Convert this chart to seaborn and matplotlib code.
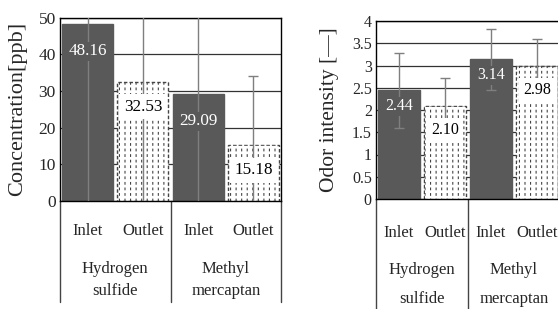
import pandas as pd
import numpy as np
import matplotlib
matplotlib.use("Agg")
import matplotlib.pyplot as plt
import matplotlib.transforms as mtransforms
import seaborn as sns

# data
positions = ["Inlet", "Outlet", "Inlet", "Outlet"]
gases = ["Hydrogen\nsulfide", "Methyl\nmercaptan"]
conc = [48.16, 32.53, 29.09, 15.18]
conc_err = [52.0, 35.4, 31.2, 18.9]
odor = [2.44, 2.10, 3.14, 2.98]
odor_err = [0.84, 0.62, 0.68, 0.62]

keys = [g.replace("\n", " ") + " " + p for g, p in zip(np.repeat(gases, 2), positions)]
df = pd.DataFrame({"key": keys, "pos": positions, "conc": conc, "odor": odor})

sns.set_style("white")
plt.rcParams["font.family"] = ["Liberation Serif", "DejaVu Serif"]

DARK = "#595959"
fig = plt.figure(figsize=(5.58, 3.09), dpi=100)
ax1 = fig.add_axes([60 / 558, 108 / 309, 221 / 558, 183.5 / 309])
ax2 = fig.add_axes([376 / 558, 110 / 309, 184 / 558, 178 / 309])


def panel(ax, col, err, ymax, step, ylabel, tick_fs, lab_fs, offs, low, gas_y, ylab_x, ylab_fs):
    plt.rcParams["hatch.linewidth"] = 0.8
    sns.barplot(data=df, x="key", y=col, order=keys, width=0.92, ax=ax,
                color=DARK, saturation=1, zorder=2)
    for i, bar in enumerate(ax.patches):
        if positions[i] == "Outlet":
            bar.set_facecolor("white")
            bar.set_edgecolor("#444444")
            bar.set_linestyle((0, (2.5, 1.5)))
            bar.set_linewidth(1.0)
            bar.set_hatch("|||")
        else:
            bar.set_edgecolor(DARK)
    # white horizontal hatch breaks the vertical hatch lines into short dashes
    outlet = df[df["pos"] == "Outlet"]
    plt.rcParams["hatch.linewidth"] = 2.0
    ax.bar(outlet.index, outlet[col], width=0.86, facecolor="none", edgecolor="white",
           linewidth=0, hatch="---", zorder=2.5)
    ax.errorbar(range(len(keys)), df[col], yerr=err, fmt="none", ecolor="#7f7f7f",
                elinewidth=1, capsize=3.5, capthick=1, zorder=3)
    for i, v in enumerate(df[col]):
        inlet = positions[i] == "Inlet"
        ax.annotate(f"{v:.2f}", (i, v), xytext=(0, -offs[positions[i]]),
                    textcoords="offset pixels", ha="center", va="center",
                    fontsize=lab_fs, color="white" if inlet else "black", zorder=4,
                    bbox=dict(boxstyle="square,pad=0.1" if inlet else "square,pad=0.25",
                              fc=DARK if inlet else "white", ec="none"))
    ax.set_ylim(0, ymax)
    ax.set_xlim(-0.5, 3.5)
    ticks = np.arange(0, ymax + step / 2, step)
    ax.set_yticks(ticks)
    ax.set_yticklabels([f"{t:g}" for t in ticks], fontsize=tick_fs)
    ax.tick_params(axis="y", length=0, pad=3)
    ax.yaxis.grid(True, color="#333333", linewidth=0.9, zorder=0)
    ax.set_axisbelow(True)
    ax.set_ylabel(ylabel, fontsize=ylab_fs)
    ax.yaxis.set_label_coords(ylab_x, 0.5)
    ax.set_xlabel("")
    ax.set_xticks(range(len(keys)))
    ax.set_xticklabels(positions, fontsize=12)
    ax.tick_params(axis="x", length=0, pad=gas_y[0])
    for s in ["left", "right", "top", "bottom"]:
        ax.spines[s].set_visible(True)
        ax.spines[s].set_color("black")
        ax.spines[s].set_linewidth(1)
    # group separators of the category table under the axis
    trans = mtransforms.blended_transform_factory(ax.transData, ax.transAxes)
    for xb in [-0.5, 1.5, 3.5]:
        ax.plot([xb, xb], [0, low], transform=trans, color="#444444", lw=1,
                clip_on=False, zorder=1)
    for j, g in enumerate(gases):
        ax.text(2 * j + 0.5, gas_y[1], g, transform=trans, ha="center", va="center",
                fontsize=12, linespacing=gas_y[2])


panel(ax1, "conc", conc_err, 50, 10, "Concentration[ppb]", 12.5, 12.3,
      {"Inlet": 27, "Outlet": 25}, -0.55, (16, -0.43, 1.5), -0.15, 16)
panel(ax2, "odor", odor_err, 4, 0.5, "Odor intensity [\u2014]", 11.5, 11.5,
      {"Inlet": 16, "Outlet": 24}, -0.7, (19, -0.48, 2.05), -0.2, 15.5)

fig.savefig("out.png", dpi=100)
